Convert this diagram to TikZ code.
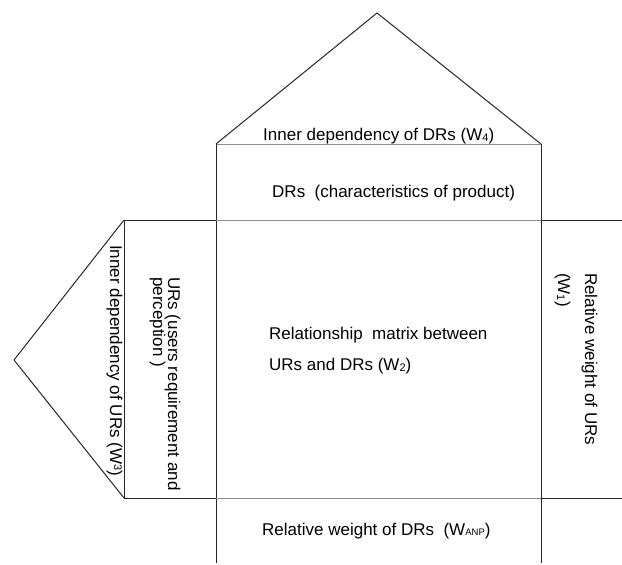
\documentclass[tikz,border=0pt]{standalone}
\usepackage{fontspec}
\setmainfont{Liberation Sans}
% small indices after W
\newcommand\lowidx[1]{\raisebox{-1pt}{\fontsize{11}{11}\selectfont #1}}
\newcommand\highidx[1]{\raisebox{4pt}{\fontsize{11}{11}\selectfont #1}}
\newcommand\tinyidx[1]{\raisebox{-0.5pt}{\fontsize{9.5}{9.5}\selectfont #1}}
\begin{document}
\begin{tikzpicture}[x=1pt,y=-1pt,
  frame/.style={draw=black!85, line width=1pt},
  rule/.style={draw=black!45, line width=1pt},
  lbl/.style={inner sep=0pt, font=\fontsize{17}{17}\selectfont, anchor=base west},
  vlbl/.style={lbl, rotate=-90}]
\useasboundingbox (0,0) rectangle (622,565);

% corner points of the house
\coordinate (apex) at (377,13);
\coordinate (roofL) at (216,144);
\coordinate (roofR) at (541,144);
\coordinate (midL) at (216,220);
\coordinate (midR) at (541,220);
\coordinate (botL) at (216,498);
\coordinate (botR) at (541,498);
\coordinate (wingTop) at (124,220);
\coordinate (wingBot) at (124,498);
\coordinate (wingTip) at (14,360);
\coordinate (edgeTop) at (622,220);
\coordinate (edgeBot) at (622,498);
\coordinate (footL) at (216,563);
\coordinate (footR) at (541,563);

% roof
\draw[frame] (roofL) -- (apex) -- (roofR);
\draw[rule] (roofL) -- (roofR);
% main walls
\draw[frame] (roofL) -- (footL);
\draw[frame] (roofR) -- (footR);
% horizontal rules
\draw[frame] (wingTop) -- (midL);
\draw[rule] (midL) -- (midR);
\draw[frame] (midR) -- (edgeTop);
\draw[frame] (wingBot) -- (botL);
\draw[rule] (botL) -- (botR);
\draw[frame] (botR) -- (edgeBot);
% left wing
\draw[frame] (wingTop) -- (wingBot);
\draw[frame] (wingTop) -- (wingTip) -- (wingBot);

% labels
\node[lbl] (roofText) at (263,140) {Inner dependency of DRs (W\lowidx{4})};
\node[lbl] (drs) at (272,197) {DRs~ (characteristics of product)};
\node[lbl] (matA) at (269,339) {Relationship~ matrix between};
\node[lbl] (matB) at (269,370) {URs and DRs (W\lowidx{2})};
\node[lbl] (wanp) at (262,535) {Relative weight of DRs~ (W\tinyidx{ANP})};
\node[vlbl] (innerUR) at (110,245) {Inner dependency of URs (W\highidx{3})};
\node[vlbl] (ursA) at (168,277) {URs (users requirement and};
\node[vlbl] (ursB) at (153,277) {perception )};
\node[vlbl] (relA) at (585,273) {Relative weight of URs};
\node[vlbl] (relB) at (558,273) {(W\lowidx{1})};
\end{tikzpicture}
\end{document}
